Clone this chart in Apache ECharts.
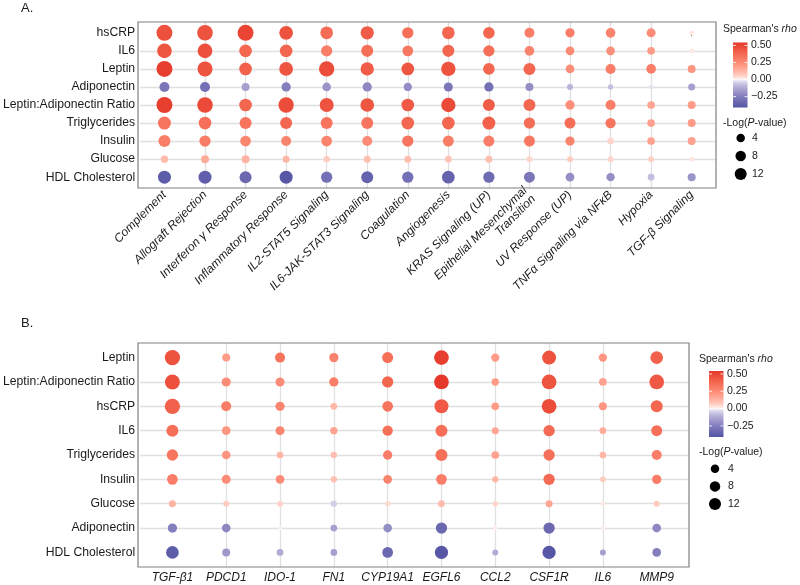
<!DOCTYPE html>
<html><head><meta charset="utf-8">
<script src="https://cdn.jsdelivr.net/npm/echarts@6/dist/echarts.min.js"></script>
<style>html,body{margin:0;padding:0;background:#fff}#c{width:800px;height:585px}</style>
</head><body><div id="c"></div>
<script>
// ---------------- DATA ----------------
const traitsA = ['hsCRP','IL6','Leptin','Adiponectin','Leptin:Adiponectin Ratio','Triglycerides','Insulin','Glucose','HDL Cholesterol'];
const pathwaysA = ['Complement','Allograft Rejection','Interferon γ Response','Inflammatory Response','IL2-STAT5 Signaling','IL6-JAK-STAT3 Signaling','Coagulation','Angiogenesis','KRAS Signaling (UP)','Epithelial Mesenchymal\nTransition','UV Response (UP)','TNFα Signaling via NFκB','Hypoxia','TGF-β Signaling'];
// Spearman's rho, one row per trait, one value per pathway
const rhoA_hsCRP   = [0.46,0.45,0.50,0.45,0.36,0.42,0.35,0.38,0.38,0.30,0.30,0.28,0.25,0.02];
const rhoA_IL6     = [0.44,0.46,0.38,0.38,0.30,0.35,0.32,0.38,0.35,0.28,0.26,0.24,0.20,0.02];
const rhoA_Leptin  = [0.52,0.45,0.40,0.44,0.47,0.42,0.44,0.45,0.38,0.38,0.24,0.30,0.30,0.22];
const rhoA_Adipo   = [-0.28,-0.30,-0.15,-0.25,-0.18,-0.22,-0.20,-0.28,-0.30,-0.20,-0.10,-0.08,-0.02,-0.15];
const rhoA_LAR     = [0.52,0.48,0.38,0.47,0.45,0.44,0.43,0.48,0.42,0.38,0.24,0.30,0.17,0.20];
const rhoA_Trig    = [0.33,0.35,0.33,0.38,0.33,0.33,0.38,0.38,0.40,0.36,0.36,0.33,0.18,0.20];
const rhoA_Insulin = [0.30,0.30,0.27,0.28,0.28,0.25,0.33,0.30,0.30,0.32,0.28,0.05,0.18,0.18];
const rhoA_Glucose = [0.11,0.15,0.13,0.12,0.07,0.10,0.10,0.09,0.10,0.05,0.07,0.05,0.06,0.02];
const rhoA_HDL     = [-0.38,-0.37,-0.33,-0.40,-0.30,-0.35,-0.30,-0.35,-0.32,-0.28,-0.20,-0.20,-0.08,-0.18];
// -Log(P-value)
const nlpA_hsCRP   = [26,24.5,26,17.5,14,16,10,14,11,6.9,5.4,6.25,4.9,0.2];
const nlpA_IL6     = [21,21,14,14,10,12,8.5,12,10,6.25,4.3,4.3,2.8,0.2];
const nlpA_Leptin  = [26,22,14,17.5,23.4,16,14,19.5,11,12,4.3,6.9,6.25,3.2];
const nlpA_Adipo   = [6.9,6.9,3.2,5.4,4.3,5.4,3.7,4.9,5.4,3.2,0.9,0.4,0.1,1.9];
const nlpA_LAR     = [26,24.5,14,23.4,18.4,17.5,14,19.5,12,12,5.4,6.9,2.8,3.2];
const nlpA_Trig    = [15,14,12,12,12,12,14,14,15,10,9.25,7.5,2.8,3.2];
const nlpA_Insulin = [12,10,8.5,6.9,8.5,6.9,10,9.25,9.25,9.25,5.4,1.6,2.8,3.2];
const nlpA_Glucose = [2.3,3.2,3.2,1.9,1.2,1.9,1.9,1.6,1.9,0.9,0.9,0.9,0.9,0.2];
const nlpA_HDL     = [15,15,12,15,10,12,10,14,10,9.25,4.3,3.7,1.6,3.2];
const rhoA = [rhoA_hsCRP,rhoA_IL6,rhoA_Leptin,rhoA_Adipo,rhoA_LAR,rhoA_Trig,rhoA_Insulin,rhoA_Glucose,rhoA_HDL];
const nlpA = [nlpA_hsCRP,nlpA_IL6,nlpA_Leptin,nlpA_Adipo,nlpA_LAR,nlpA_Trig,nlpA_Insulin,nlpA_Glucose,nlpA_HDL];

const traitsB = ['Leptin','Leptin:Adiponectin Ratio','hsCRP','IL6','Triglycerides','Insulin','Glucose','Adiponectin','HDL Cholesterol'];
const genesB = ['TGF-β1','PDCD1','IDO-1','FN1','CYP19A1','EGFL6','CCL2','CSF1R','IL6','MMP9'];
const rhoB_Leptin  = [0.45,0.20,0.33,0.28,0.35,0.52,0.20,0.45,0.22,0.40];
const rhoB_LAR     = [0.46,0.25,0.25,0.30,0.38,0.54,0.20,0.45,0.18,0.43];
const rhoB_hsCRP   = [0.40,0.30,0.27,0.12,0.33,0.43,0.20,0.47,0.22,0.38];
const rhoB_IL6     = [0.35,0.22,0.27,0.17,0.35,0.35,0.17,0.37,0.15,0.35];
const rhoB_Trig    = [0.33,0.22,0.12,0.10,0.30,0.35,0.18,0.35,0.12,0.30];
const rhoB_Insulin = [0.30,0.25,0.25,0.10,0.28,0.30,0.12,0.37,0.07,0.30];
const rhoB_Glucose = [0.13,0.07,0.05,-0.05,0.04,0.11,0.05,0.17,0.02,0.07];
const rhoB_Adipo   = [-0.25,-0.22,0.01,-0.15,-0.20,-0.33,0.01,-0.33,0.01,-0.22];
const rhoB_HDL     = [-0.38,-0.17,-0.12,-0.15,-0.33,-0.40,-0.12,-0.40,-0.15,-0.25];
const nlpB_Leptin  = [23.4,3.2,6.9,5.4,9.25,21,3.7,18.4,3.7,14];
const nlpB_LAR     = [22,4.9,4.9,5.4,10,21,2.3,21,2.8,21];
const nlpB_hsCRP   = [23.4,6.9,5.4,1.6,8.5,18.4,2.8,21,3.2,12];
const nlpB_IL6     = [12,4.3,4.9,2.3,7.5,12,1.9,10,1.6,9.25];
const nlpB_Trig    = [10,4.3,1.6,1.2,5.4,12,2.8,10,1.6,6.9];
const nlpB_Insulin = [8.5,4.9,4.3,1.2,4.3,8.5,1.2,10,0.7,5.4];
const nlpB_Glucose = [1.9,0.9,0.9,1.2,0.4,1.6,0.4,1.9,0.1,0.9];
const nlpB_Adipo   = [5.4,4.3,0.1,1.6,4.3,10,0.1,10,0.1,4.3];
const nlpB_HDL     = [14,3.2,1.6,1.6,8.5,16,0.9,16,0.9,4.3];
const rhoB = [rhoB_Leptin,rhoB_LAR,rhoB_hsCRP,rhoB_IL6,rhoB_Trig,rhoB_Insulin,rhoB_Glucose,rhoB_Adipo,rhoB_HDL];
const nlpB = [nlpB_Leptin,nlpB_LAR,nlpB_hsCRP,nlpB_IL6,nlpB_Trig,nlpB_Insulin,nlpB_Glucose,nlpB_Adipo,nlpB_HDL];

const rhoTicks = [0.50,0.25,0.00,-0.25];
const rhoTickLabels = ['0.50','0.25','0.00','\u22120.25'];
const sizeTicks = [4,8,12];
const rhoLimits = [-0.41,0.543];

// ---------------- STYLE ----------------
const FONT = '"Liberation Sans", Arial, sans-serif';
const LOW = '#5455A5', MID = '#FFFFFF', HIGH = '#E6362A';
const GAMMA = 0.62;
function hex2rgb(h){return [parseInt(h.slice(1,3),16),parseInt(h.slice(3,5),16),parseInt(h.slice(5,7),16)];}
function s2l(c){c/=255;return c<=0.04045?c/12.92:Math.pow((c+0.055)/1.055,2.4);}
function l2s(c){c=c<=0.0031308?12.92*c:1.055*Math.pow(c,1/2.4)-0.055;return Math.round(Math.max(0,Math.min(1,c))*255);}
function rgb2lab(rgb){const [r,g,b]=rgb.map(s2l);const X=(0.4124*r+0.3576*g+0.1805*b)/0.95047,Y=0.2126*r+0.7152*g+0.0722*b,Z=(0.0193*r+0.1192*g+0.9505*b)/1.08883;const f=t=>t>0.008856?Math.cbrt(t):7.787*t+16/116;const fx=f(X),fy=f(Y),fz=f(Z);return [116*fy-16,500*(fx-fy),200*(fy-fz)];}
function lab2rgb(lab){const [L,a,b]=lab;const fy=(L+16)/116,fx=fy+a/500,fz=fy-b/200;const fi=t=>t*t*t>0.008856?t*t*t:(t-16/116)/7.787;const X=fi(fx)*0.95047,Y=fi(fy),Z=fi(fz)*1.08883;return [l2s(3.2406*X-1.5372*Y-0.4986*Z),l2s(-0.9689*X+1.8758*Y+0.0415*Z),l2s(0.0557*X-0.2040*Y+1.0570*Z)];}
const labLow=rgb2lab(hex2rgb(LOW)), labMid=rgb2lab(hex2rgb(MID)), labHigh=rgb2lab(hex2rgb(HIGH));
function rhoColor(r){
  let t = r>=0 ? Math.min(1,r/rhoLimits[1]) : Math.min(1,r/rhoLimits[0]);
  t = Math.pow(Math.max(0,t), GAMMA);
  const e = r>=0 ? labHigh : labLow;
  const c = lab2rgb([0,1,2].map(k=>labMid[k]+(e[k]-labMid[k])*t));
  return 'rgb('+c.join(',')+')';
}
function dotSize(v){ return 3.7 + 2.4*Math.sqrt(Math.max(0,v)); }

const G = {
  A:{left:138, top:22, width:578, height:166},
  B:{left:138, top:343, width:551, height:224}
};

function buildData(rho, nlp){
  const out=[];
  rho.forEach((row,i)=>row.forEach((r,j)=>out.push([j,i,r,nlp[i][j]])));
  return out;
}

function xAxisCfg(gi, names, rotate){
  const idx = names.map((_,i)=>i);
  return {
    gridIndex:gi, type:'value', min:-0.6, max:names.length-1+0.6,
    splitNumber:names.length, minInterval:1, maxInterval:1,
    axisLine:{show:false},
    axisTick:{show:true, length:3, lineStyle:{color:'#4d4d4d', width:1}, customValues:idx},
    axisLabel:{
      customValues:idx, rotate:rotate, margin:5,
      fontFamily:FONT, fontSize:12, fontStyle:'italic', color:'#1a1a1a',
      formatter:v=>Number.isInteger(v)?names[v]:'', showMinLabel:true, showMaxLabel:true,
      lineHeight:12
    },
    splitLine:{show:true, showMinLine:false, showMaxLine:false, lineStyle:{color:'#e0e0e0', width:1.3}}
  };
}
function yAxisCfg(gi, names){
  const idx = names.map((_,i)=>i);
  return {
    gridIndex:gi, type:'value', inverse:true, min:-0.6, max:names.length-1+0.6,
    splitNumber:names.length, minInterval:1, maxInterval:1,
    axisLine:{show:false},
    axisTick:{show:true, length:3, lineStyle:{color:'#4d4d4d', width:1}, customValues:idx},
    axisLabel:{
      customValues:idx, margin:5, fontFamily:FONT, fontSize:12.2, color:'#1a1a1a',
      formatter:v=>Number.isInteger(v)?names[v]:'', showMinLabel:true, showMaxLabel:true
    },
    splitLine:{show:true, showMinLine:false, showMaxLine:false, lineStyle:{color:'#e0e0e0', width:1.3}}
  };
}

function seriesCfg(gi, data){
  return {
    type:'scatter', xAxisIndex:gi, yAxisIndex:gi, data:data, z:5,
    symbol:'circle', symbolSize:d=>dotSize(d[3]),
    itemStyle:{color:p=>rhoColor(p.data[2]), opacity:1},
    emphasis:{disabled:true}, silent:true
  };
}

function legend(x0, yTitle, barX, barTop, barH, labX, sizeTitleY, circX, circY0, circStep, sizeLabX){
  const els=[];
  const txt=(t,x,y,size,align,rich)=>({type:'text', z:20, style:{
    text:t, x:x, y:y, fontFamily:FONT, fontSize:size, fill:'#1a1a1a',
    align:align||'left', textAlign:align||'left', verticalAlign:'middle', textVerticalAlign:'middle',
    rich:rich}});
  const richDef={n:{fontFamily:FONT,fontSize:10.5,fill:'#1a1a1a'}, i:{fontFamily:FONT,fontSize:10.5,fontStyle:'italic',fill:'#1a1a1a'}};
  els.push(txt("{n|Spearman's }{i|rho}", x0, yTitle, 10.5, 'left', richDef));
  const barW=14.5;
  const span=rhoLimits[1]-rhoLimits[0];
  const stops=[];
  for(let k=0;k<=60;k++){const off=k/60; const v=rhoLimits[1]-off*span; stops.push({offset:off,color:rhoColor(v)});}
  els.push({type:'rect', z:20, shape:{x:barX,y:barTop,width:barW,height:barH},
    style:{fill:{type:'linear',x:0,y:0,x2:0,y2:1,colorStops:stops}}});
  rhoTicks.forEach((v,k)=>{
    const y=barTop+(rhoLimits[1]-v)/span*barH;
    els.push({type:'line', z:21, shape:{x1:barX,y1:y,x2:barX+3,y2:y}, style:{stroke:'#fff',lineWidth:0.8}});
    els.push({type:'line', z:21, shape:{x1:barX+barW-3,y1:y,x2:barX+barW,y2:y}, style:{stroke:'#fff',lineWidth:0.8}});
    els.push(txt(rhoTickLabels[k], labX, y, 10.5, 'left'));
  });
  els.push(txt("{n|-Log(}{i|P}{n|-value)}", x0, sizeTitleY, 10.5, 'left', richDef));
  sizeTicks.forEach((v,k)=>{
    const y=circY0+k*circStep;
    els.push({type:'circle', z:20, shape:{cx:circX, cy:y, r:dotSize(v)/2}, style:{fill:'#000'}});
    els.push(txt(String(v), sizeLabX, y, 10.5, 'left'));
  });
  return els;
}

function border(g){
  return {type:'rect', z:30, shape:{x:g.left,y:g.top,width:g.width,height:g.height},
    style:{fill:null, stroke:'#808080', lineWidth:1.2}};
}

const chart = echarts.init(document.getElementById('c'), null, {renderer:'canvas'});
const graphics = [
  {type:'text', z:20, style:{text:'A.', x:21, y:8, fontFamily:FONT, fontSize:13, fill:'#1a1a1a', align:'left', textAlign:'left', verticalAlign:'middle', textVerticalAlign:'middle'}},
  {type:'text', z:20, style:{text:'B.', x:21, y:323, fontFamily:FONT, fontSize:13, fill:'#1a1a1a', align:'left', textAlign:'left', verticalAlign:'middle', textVerticalAlign:'middle'}},
  border(G.A), border(G.B)
].concat(
  legend(723, 29, 733, 42.5, 65, 751, 123, 740.7, 138, 18, 752),
  legend(699, 358.7, 709, 371, 66, 727, 452, 715, 468.7, 17.7, 728)
);

chart.setOption({
  animation:false,
  backgroundColor:'#ffffff',
  grid:[
    Object.assign({show:false}, G.A),
    Object.assign({show:false}, G.B)
  ],
  xAxis:[xAxisCfg(0, pathwaysA, 45), xAxisCfg(1, genesB, 0)],
  yAxis:[yAxisCfg(0, traitsA), yAxisCfg(1, traitsB)],
  series:[seriesCfg(0, buildData(rhoA, nlpA)), seriesCfg(1, buildData(rhoB, nlpB))],
  graphic:{elements:graphics}
});
</script>
</body></html>
